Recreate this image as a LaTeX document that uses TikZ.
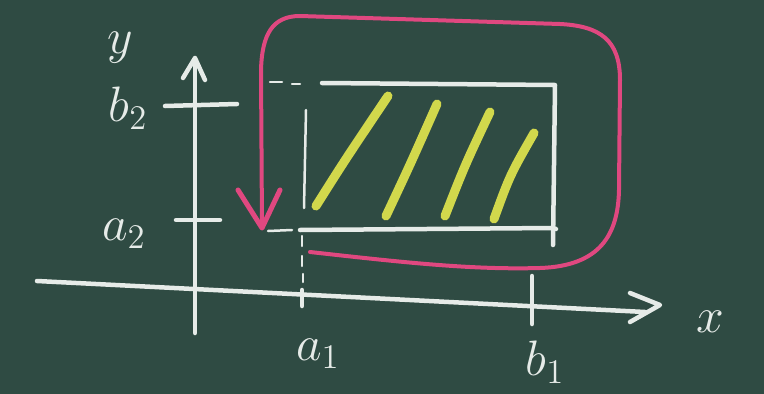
\documentclass[tikz,border=0pt]{standalone}
\usepackage{tikz}
\usetikzlibrary{arrows.meta}
\definecolor{board}{HTML}{2F4B43}
\definecolor{chalk}{HTML}{E6EBE8}
\definecolor{chalkyel}{HTML}{D2D84C}
\definecolor{chalkpink}{HTML}{E04880}
\tikzset{
  chalkline/.style={draw=chalk, line width=4.5pt, line cap=round, line join=round},
  thinchalk/.style={draw=chalk, line width=2.5pt, line cap=round},
  hatch/.style={draw=chalkyel, line width=9pt, line cap=round},
  pinkline/.style={draw=chalkpink, line width=4pt, line cap=round, line join=round},
  lbl/.style={text=chalk, font=\huge, inner sep=0pt}
}
\newcommand{\chalktext}[1]{\scalebox{2.4}{$#1$}}
\begin{document}
\begin{tikzpicture}[x=1pt,y=-1pt]
\fill[board] (0,0) rectangle (764,394);
\useasboundingbox (0,0) rectangle (764,394);
% axes
\coordinate (yb) at (195,333);
\coordinate (yt) at (195,58);
\draw[chalkline] (yb) -- (yt);
\draw[chalkline] (183,78) -- (195,58) -- (205,80);
\coordinate (xl) at (37,281);
\coordinate (xr) at (645,312);
\draw[chalkline] (xl) -- (xr);
\draw[chalkline] (630,293) -- (660,305) -- (630,322);
% ticks
\draw[chalkline] (165,106) -- (237,104);
\draw[chalkline] (176,220) -- (220,220);
\draw[chalkline] (302,290) -- (302,306);
\draw[chalkline] (532,276) -- (532,324);
% labels
\node[lbl] (ylab) at (120,48) {\chalktext{y}};
\node[lbl] (b2lab) at (128,108) {\chalktext{b_2}};
\node[lbl] (a2lab) at (124,234) {\chalktext{a_2}};
\node[lbl] (a1lab) at (318,354) {\chalktext{a_1}};
\node[lbl] (b1lab) at (545,362) {\chalktext{b_1}};
\node[lbl] (xlab) at (710,322) {\chalktext{x}};
% rectangle
\coordinate (r1) at (322,83);
\coordinate (r2) at (555,85);
\coordinate (r3) at (553,228);
\coordinate (r4) at (300,230);
\draw[chalkline] (r1) -- (r2) -- (553,245);
\draw[chalkline] (r4) -- (r3) -- (556,229);
\draw[thinchalk] (306,110) -- (304,208);
\draw[thinchalk] (270,82) -- (282,82);
\draw[thinchalk] (292,84) -- (300,84);
\draw[thinchalk] (268,231) -- (292,230);
\draw[thinchalk] (302,236) -- (302,246);
\draw[thinchalk] (302,256) -- (302,266);
\draw[thinchalk] (303,274) -- (303,282);
% hatching
\draw[hatch] (316,206) .. controls (345,160) .. (388,96);
\draw[hatch] (386,216) .. controls (410,165) .. (437,104);
\draw[hatch] (445,216) .. controls (465,165) .. (490,112);
\draw[hatch] (494,219) .. controls (510,175) .. (534,133);
% pink loop
\coordinate (pstart) at (310,252);
\coordinate (ptip) at (262,228);
\draw[pinkline] (pstart) .. controls (400,262) and (470,270) .. (540,268)
  .. controls (600,266) and (618,235) .. (619,190)
  -- (620,80) .. controls (620,40) and (600,26) .. (560,24)
  -- (300,16) .. controls (272,16) and (262,35) .. (261,70)
  -- (ptip);
\draw[pinkline, line width=5pt] (238,190) -- (ptip) -- (280,190);
\end{tikzpicture}
\end{document}
